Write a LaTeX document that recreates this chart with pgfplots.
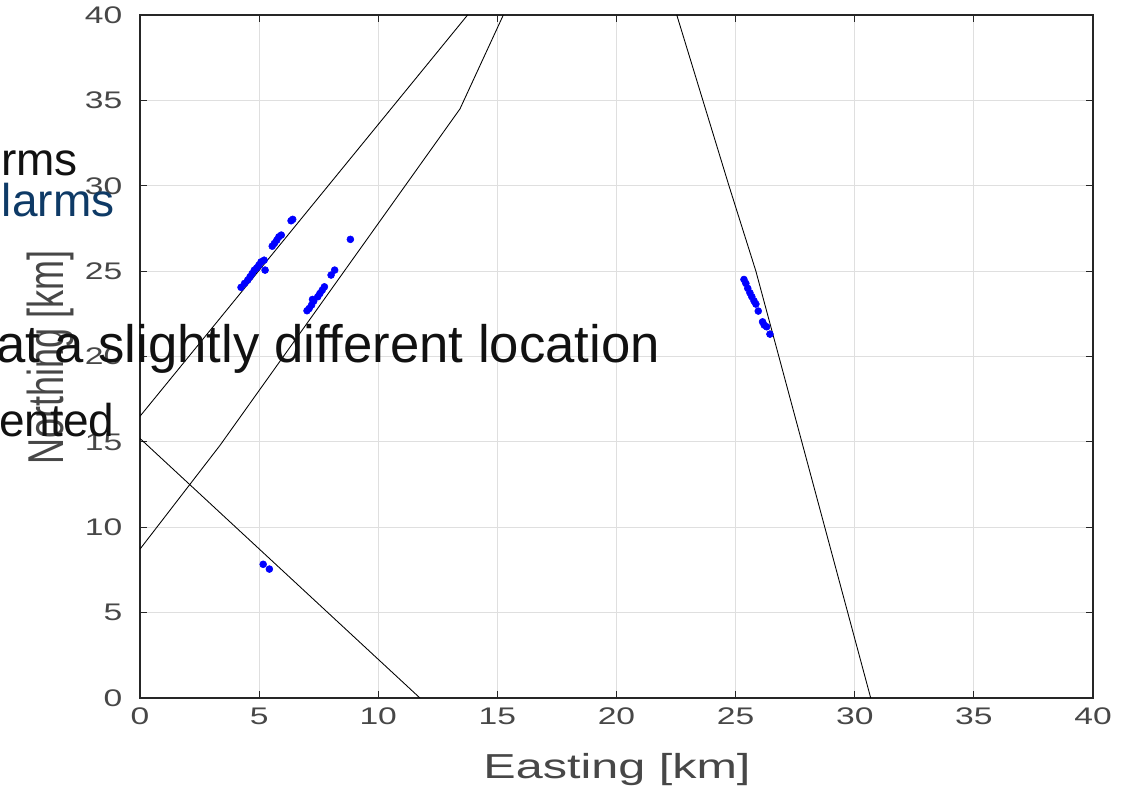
\documentclass[border=0pt]{standalone}
\usepackage{pgfplots}
\pgfplotsset{compat=1.18}
\usepackage{fontspec}
\setmainfont{Liberation Sans}
\definecolor{axgray}{RGB}{38,38,38}
\definecolor{gridgray}{RGB}{223,223,223}
\definecolor{slideblue}{RGB}{14,58,102}
\definecolor{slideblack}{RGB}{17,17,17}
\begin{document}
\begin{tikzpicture}
\path[use as bounding box] (0pt,0pt) rectangle (846pt,594pt);
\begin{axis}[
  at={(105pt,70.5pt)}, anchor=south west,
  scale only axis, width=714.75pt, height=512.25pt,
  xmin=0, xmax=40, ymin=0, ymax=40,
  xtick={0,5,...,40}, ytick={0,5,...,40},
  grid=major,
  major grid style={gridgray, line width=0.6pt},
  axis line style={axgray, line width=0.8pt},
  tick style={axgray, line width=0.8pt},
  tick align=inside, major tick length=5pt,
  xtick pos=both, ytick pos=both,
  ticklabel style={font=\fontsize{18}{20}\selectfont, text=axgray!85!white},
  xticklabel style={xscale=1.4, yshift=-4pt},
  yticklabel style={xscale=1.4, xshift=-6pt},
  /pgf/number format/assume math mode=true,
  clip=true,
]
% boundary lines
\addplot[black, line width=0.65pt] coordinates {(0,16.5) (13.75,40)};
\addplot[black, line width=0.65pt] coordinates {(0,8.72) (3.36,14.8) (13.43,34.5) (15.25,40)};
\addplot[black, line width=0.65pt] coordinates {(0,15.2) (11.75,0)};
\addplot[black, line width=0.65pt] coordinates {(22.53,40) (24.72,30) (25.85,25) (30.67,0)};
% detections
\addplot[only marks, mark=*, mark size=2.6pt, blue, mark options={draw=blue, fill=blue}] coordinates {
 (4.24,24.05) (4.39,24.28) (4.52,24.47) (4.62,24.67) (4.71,24.86) (4.80,25.06)
 (4.90,25.19) (4.99,25.35) (5.08,25.54) (5.21,25.64) (5.25,25.06)
 (5.55,26.46) (5.64,26.62) (5.74,26.81) (5.83,27.01) (5.93,27.11)
 (6.34,27.95) (6.41,28.03)
 (7.01,22.68) (7.10,22.81) (7.20,23.01) (7.29,23.24) (7.24,23.34) (7.46,23.50)
 (7.55,23.69) (7.65,23.89) (7.74,24.08) (8.02,24.77) (8.17,25.06) (8.83,26.86)
 (25.35,24.51) (25.43,24.28) (25.51,23.99) (25.60,23.73) (25.68,23.50) (25.77,23.26)
 (25.85,23.07) (25.95,22.66) (26.13,22.03) (26.20,21.84) (26.30,21.74) (26.44,21.31)
 (5.17,7.83) (5.43,7.55)
};
\end{axis}
% axis labels
\node[text=axgray!85!white, font=\fontsize{26}{30}\selectfont, xscale=1.4] at (462.75pt,16.5pt) {Easting [km]};
\node[text=axgray!85!white, font=\fontsize{27}{30}\selectfont, rotate=90, yscale=1.4] at (37.5pt,326.25pt) {Northing [km]};
% overlaid slide text
\node[anchor=base east, inner sep=0pt, text=slideblack, font=\fontsize{34.5}{40}\selectfont] at (58.5pt,462pt) {rms};
\node[anchor=base east, inner sep=0pt, text=slideblue, font=\fontsize{34.5}{40}\selectfont] at (86pt,431.25pt) {larms};
\node[anchor=base east, inner sep=0pt, text=slideblack, font=\fontsize{39.5}{44}\selectfont] at (495pt,321.75pt) {at a slightly different location};
\node[anchor=base east, inner sep=0pt, text=slideblack, font=\fontsize{34.5}{40}\selectfont] at (86pt,266.25pt) {ented};
\end{tikzpicture}
\end{document}
